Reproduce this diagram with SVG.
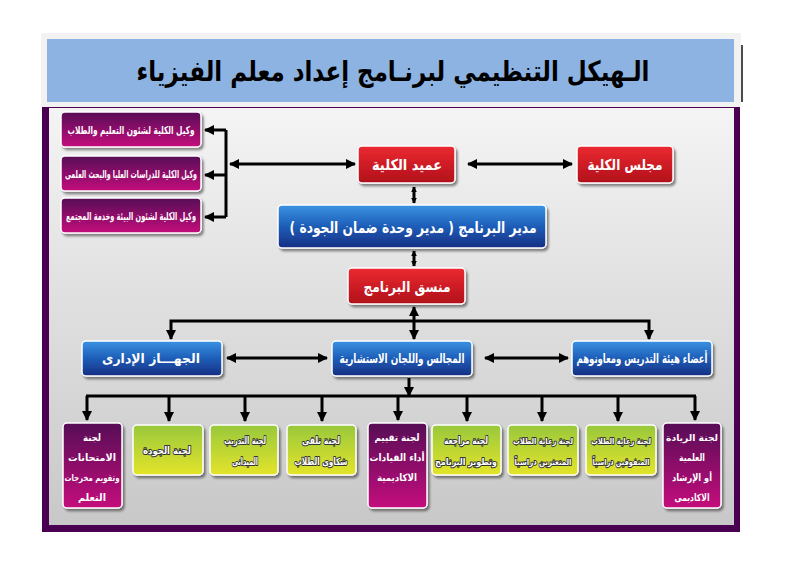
<svg xmlns="http://www.w3.org/2000/svg" width="789" height="573" viewBox="0 0 789 573">
<defs>
<linearGradient id="gBg" x1="0" y1="0" x2="0" y2="1"><stop offset="0" stop-color="#f4f4f4"/><stop offset="1" stop-color="#c8c8c8"/></linearGradient>
<linearGradient id="gRed" x1="0" y1="0" x2="0" y2="1"><stop offset="0" stop-color="#ec2a31"/><stop offset="1" stop-color="#b0101a"/></linearGradient>
<linearGradient id="gBlue" x1="0" y1="0" x2="0" y2="1"><stop offset="0" stop-color="#3a93e2"/><stop offset="0.5" stop-color="#1d5db8"/><stop offset="1" stop-color="#172f82"/></linearGradient>
<linearGradient id="gPur" x1="0" y1="0" x2="0" y2="1"><stop offset="0" stop-color="#560a56"/><stop offset="1" stop-color="#c4077c"/></linearGradient>
<linearGradient id="gGrn" x1="0" y1="0" x2="0" y2="1"><stop offset="0" stop-color="#98c83c"/><stop offset="1" stop-color="#e4e42a"/></linearGradient>
<filter id="sh" x="-10%" y="-10%" width="130%" height="140%"><feDropShadow dx="2" dy="2.5" stdDeviation="1.3" flood-color="#000" flood-opacity="0.45"/></filter>
<marker id="ah" viewBox="0 0 10 10" refX="9" refY="5" markerWidth="10" markerHeight="10" markerUnits="userSpaceOnUse" orient="auto-start-reverse"><path d="M0,0 L10,5 L0,10 z" fill="#000"/></marker>
<marker id="as" viewBox="0 0 10 10" refX="9" refY="5" markerWidth="6" markerHeight="7" markerUnits="userSpaceOnUse" orient="auto-start-reverse"><path d="M0,0 L10,5 L0,10 z" fill="#000"/></marker>
</defs>
<style>
.box{stroke:#fff;stroke-width:1.5;filter:url(#sh)}
.red{fill:url(#gRed)}.blue{fill:url(#gBlue)}.pur{fill:url(#gPur)}.grn{fill:url(#gGrn)}
.t{font-family:"DejaVu Sans",sans-serif;font-weight:bold;fill:#fff;text-anchor:middle}
.g{stroke:#333;stroke-width:2;paint-order:stroke;stroke-linejoin:round}
.c line,.c path{stroke:#000;stroke-width:3;fill:none}
.d{marker-end:url(#ah)}
.b{marker-start:url(#ah);marker-end:url(#ah)}
.s{marker-start:url(#as);marker-end:url(#as)}
</style>

<!-- frame -->
<rect x="42" y="104" width="698" height="428" fill="#4a0050"/>
<rect x="49" y="108" width="685" height="417" fill="url(#gBg)"/>

<!-- title -->
<g id="title">
<rect x="41" y="33" width="700" height="74" fill="#f2f2f2"/>
<rect x="47" y="39" width="687" height="63" fill="#8db3e2"/>
<line x1="742" y1="45" x2="742" y2="102" stroke="#111" stroke-width="1.5"/>
<text x="393" y="81" font-family="DejaVu Sans,sans-serif" font-weight="bold" font-size="28" fill="#000" text-anchor="middle" textLength="513" lengthAdjust="spacingAndGlyphs">الـهيكل التنظيمي لبرنـامج إعداد معلم الفيزياء</text>
</g>

<!-- connectors -->
<g id="connectors" class="c">
<line x1="226" y1="130" x2="226" y2="217"/>
<line class="d" x1="226" y1="130" x2="205" y2="130"/>
<line class="d" x1="226" y1="175" x2="205" y2="175"/>
<line class="d" x1="226" y1="217" x2="205" y2="217"/>
<line class="b" x1="230" y1="164" x2="355" y2="164"/>
<line class="b" x1="468" y1="164" x2="572" y2="164"/>
<line class="s" x1="414" y1="187" x2="414" y2="203"/>
<line class="s" x1="414" y1="251" x2="414" y2="266"/>
<line class="b" x1="414" y1="307" x2="414" y2="339"/>
<path class="b" d="M171,339 V321 H649 V339"/>
<line class="b" x1="227" y1="358" x2="327" y2="358"/>
<line class="b" x1="485" y1="358" x2="568" y2="358"/>
<line class="d" x1="409" y1="378" x2="409" y2="396"/>
<line x1="86" y1="396" x2="696" y2="396"/>
<line class="d" x1="87" y1="396" x2="87" y2="420"/>
<line class="d" x1="169" y1="396" x2="169" y2="421"/>
<line class="d" x1="245" y1="396" x2="245" y2="421"/>
<line class="d" x1="322" y1="396" x2="322" y2="421"/>
<line class="d" x1="398" y1="396" x2="398" y2="420"/>
<line class="d" x1="467" y1="396" x2="467" y2="421"/>
<line class="d" x1="542" y1="396" x2="542" y2="421"/>
<line class="d" x1="618" y1="396" x2="618" y2="421"/>
<line class="d" x1="695" y1="396" x2="695" y2="420"/>
</g>

<!-- left vice deans -->
<g id="vice1"><rect class="box pur" x="61" y="112" width="140" height="35" rx="4"/>
<text class="t" x="131" y="134" font-size="11" textLength="127" lengthAdjust="spacingAndGlyphs">وكيل الكلية لشئون التعليم والطلاب</text></g>
<g id="vice2"><rect class="box pur" x="61" y="156" width="140" height="35" rx="4"/>
<text class="t" x="131" y="178" font-size="11" textLength="132" lengthAdjust="spacingAndGlyphs">وكيل الكلية للدراسات العليا والبحث العلمى</text></g>
<g id="vice3"><rect class="box pur" x="61" y="198" width="140" height="35" rx="4"/>
<text class="t" x="131" y="220" font-size="11" textLength="130" lengthAdjust="spacingAndGlyphs">وكيل الكلية لشئون البيئة وخدمة المجتمع</text></g>

<g id="dean"><rect class="box red" x="358" y="146" width="97" height="37" rx="4"/>
<text class="t" x="407" y="170" font-size="15" textLength="70" lengthAdjust="spacingAndGlyphs">عميد الكلية</text></g>
<g id="council"><rect class="box red" x="577" y="146" width="96" height="37" rx="4"/>
<text class="t" x="625" y="170" font-size="15" textLength="75" lengthAdjust="spacingAndGlyphs">مجلس الكلية</text></g>

<g id="director"><rect class="box blue" x="278" y="205" width="268" height="43" rx="4"/>
<text class="t" x="413" y="233" font-size="16" textLength="247" lengthAdjust="spacingAndGlyphs">مدير البرنامج ( مدير وحدة ضمان الجودة )</text></g>

<g id="coordinator"><rect class="box red" x="348" y="268" width="117" height="36" rx="4"/>
<text class="t" x="407" y="292" font-size="15" textLength="87" lengthAdjust="spacingAndGlyphs">منسق البرنامج</text></g>

<g id="admin"><rect class="box blue" x="82" y="341" width="140" height="35" rx="4"/>
<text class="t" x="151" y="363" font-size="13" textLength="98" lengthAdjust="spacingAndGlyphs">الجهـــاز الإدارى</text></g>
<g id="councils"><rect class="box blue" x="332" y="341" width="140" height="35" rx="4"/>
<text class="t" x="402" y="363" font-size="13" textLength="125" lengthAdjust="spacingAndGlyphs">المجالس واللجان الاستشارية</text></g>
<g id="faculty"><rect class="box blue" x="572" y="341" width="140" height="35" rx="4"/>
<text class="t" x="642" y="363" font-size="13" textLength="131" lengthAdjust="spacingAndGlyphs">أعضاء هيئة التدريس ومعاونوهم</text></g>

<!-- committees -->
<g id="c1"><rect class="box pur" x="63" y="423" width="59" height="85" rx="4"/>
<text class="t" x="92" y="441" font-size="10" textLength="18" lengthAdjust="spacingAndGlyphs">لجنة</text>
<text class="t" x="92" y="461" font-size="10" textLength="48" lengthAdjust="spacingAndGlyphs">الامتحانات</text>
<text class="t" x="92" y="481" font-size="9" textLength="55" lengthAdjust="spacingAndGlyphs">وتقويم مخرجات</text>
<text class="t" x="92" y="501" font-size="10" textLength="28" lengthAdjust="spacingAndGlyphs">التعلم</text></g>

<g id="c2"><rect class="box grn" x="133" y="425" width="70" height="50" rx="4"/>
<text class="t g" x="167" y="454" font-size="10" textLength="48" lengthAdjust="spacingAndGlyphs">لجنة الجودة</text></g>

<g id="c3"><rect class="box grn" x="210" y="425" width="68" height="50" rx="4"/>
<text class="t g" x="245" y="444" font-size="10" textLength="42" lengthAdjust="spacingAndGlyphs">لجنة التدريب</text>
<text class="t g" x="245" y="465" font-size="10" textLength="26" lengthAdjust="spacingAndGlyphs">الميدانى</text></g>

<g id="c4"><rect class="box grn" x="287" y="425" width="69" height="50" rx="4"/>
<text class="t g" x="321" y="444" font-size="10" textLength="38" lengthAdjust="spacingAndGlyphs">لجنة تلقى</text>
<text class="t g" x="321" y="465" font-size="10" textLength="53" lengthAdjust="spacingAndGlyphs">شكاوى الطلاب</text></g>

<g id="c5"><rect class="box pur" x="368" y="423" width="59" height="85" rx="4"/>
<text class="t" x="397" y="441" font-size="10" textLength="45" lengthAdjust="spacingAndGlyphs">لجنة تقييم</text>
<text class="t" x="397" y="461" font-size="10" textLength="55" lengthAdjust="spacingAndGlyphs">أداء القيادات</text>
<text class="t" x="397" y="481" font-size="10" textLength="40" lengthAdjust="spacingAndGlyphs">الاكاديمية</text></g>

<g id="c6"><rect class="box grn" x="432" y="425" width="69" height="50" rx="4"/>
<text class="t g" x="466" y="444" font-size="10" textLength="44" lengthAdjust="spacingAndGlyphs">لجنة مراجعة</text>
<text class="t g" x="466" y="465" font-size="9" textLength="62" lengthAdjust="spacingAndGlyphs">وتطوير البرنامج</text></g>

<g id="c7"><rect class="box grn" x="508" y="425" width="70" height="50" rx="4"/>
<text class="t g" x="543" y="444" font-size="8.5" textLength="60" lengthAdjust="spacingAndGlyphs">لجنة رعاية الطلاب</text>
<text class="t g" x="543" y="465" font-size="8.5" textLength="57" lengthAdjust="spacingAndGlyphs">المتعثرين دراسياً</text></g>

<g id="c8"><rect class="box grn" x="586" y="425" width="70" height="50" rx="4"/>
<text class="t g" x="621" y="444" font-size="8.5" textLength="60" lengthAdjust="spacingAndGlyphs">لجنة رعاية الطلاب</text>
<text class="t g" x="621" y="465" font-size="8.5" textLength="57" lengthAdjust="spacingAndGlyphs">المتفوقين دراسياً</text></g>

<g id="c9"><rect class="box pur" x="663" y="423" width="58" height="85" rx="4"/>
<text class="t" x="692" y="441" font-size="9" textLength="52" lengthAdjust="spacingAndGlyphs">لجنة الريادة</text>
<text class="t" x="692" y="461" font-size="10" textLength="26" lengthAdjust="spacingAndGlyphs">العلمية</text>
<text class="t" x="692" y="481" font-size="10" textLength="40" lengthAdjust="spacingAndGlyphs">أو الإرشاد</text>
<text class="t" x="692" y="501" font-size="10" textLength="35" lengthAdjust="spacingAndGlyphs">الاكاديمى</text></g>
</svg>
